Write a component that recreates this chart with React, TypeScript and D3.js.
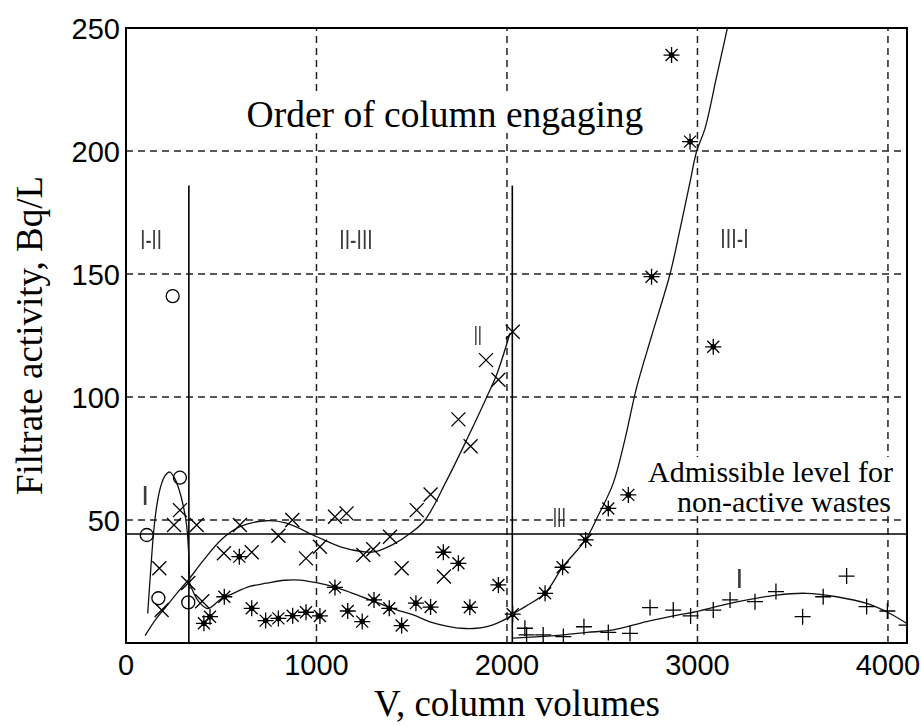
import React, { useRef, useEffect } from "react";
import * as d3 from "d3";

// measured points, V in column volumes, activity in Bq/L
export const circleV = [109, 170, 245, 283, 327];
export const circleA = [43.9, 18.2, 141, 67.2, 16.5];

export const crossV = [175, 187, 252, 283, 327, 371, 400, 514, 598, 660, 800, 873, 945, 1018, 1097, 1158, 1246, 1298, 1386, 1447, 1526, 1599, 1669, 1745, 1809, 1890, 1955, 2030];
export const crossA = [30.4, 13.4, 48, 54, 24.4, 48, 17, 36.5, 48, 36.9, 43.6, 50, 34.4, 39.1, 51.3, 52.7, 35.8, 38.1, 43.2, 30.4, 54, 60.4, 27, 90.9, 80, 115, 107, 126.5];

export const starV = [409, 441, 516, 595, 660, 733, 800, 875, 945, 1018, 1097, 1164, 1240, 1302, 1382, 1447, 1522, 1599, 1666, 1745, 1805, 1955, 2030, 2200, 2292, 2413, 2532, 2637, 2759, 2864, 2961, 3083];
export const starA = [8, 10.7, 18.8, 35.1, 14.1, 9.1, 10, 11.1, 12.5, 11, 22.6, 13, 8.7, 17.5, 14.1, 7.1, 16.2, 14.6, 36.9, 32.4, 14.5, 23.6, 11.7, 20.2, 30.8, 41.9, 54.7, 60.2, 148.9, 239, 203.8, 120.4];

export const plusV = [2094, 2103, 2190, 2296, 2404, 2532, 2646, 2751, 2873, 2964, 3083, 3171, 3302, 3412, 3552, 3660, 3783, 3888, 3997, 4098];
export const plusA = [6, 3.3, 3.3, 2.6, 6.6, 4.3, 3.9, 14.4, 13.4, 11, 13.4, 17.5, 16.8, 20.9, 10.7, 18.8, 27.2, 14.8, 13, 7.3];

// fitted curves
export const fitCircleV = [114, 130, 145, 160, 180, 205, 230, 255, 280, 300, 318, 328, 333, 336];
export const fitCircleA = [12, 30, 45, 55, 63, 68, 69.5, 67, 62, 56, 48, 38, 28, 22];

export const fitCrossV = [100, 160, 213, 270, 327, 400, 500, 598, 738, 843, 1001, 1130, 1246, 1300, 1400, 1500, 1570, 1683, 1788, 1894, 1950, 2016];
export const fitCrossA = [3, 10, 15, 20.5, 25.6, 33, 42, 47.3, 49.7, 48.7, 43.2, 39, 37.1, 37, 40, 45, 50, 66, 82.5, 100, 110, 126];

export const fitStarV = [336, 380, 430, 500, 563, 650, 738, 830, 913, 1000, 1088, 1180, 1264, 1333, 1420, 1508, 1600, 1683, 1760, 1841, 1900, 1946, 2000, 2030, 2100, 2200, 2292, 2413, 2480, 2558, 2620, 2681, 2760, 2856, 2908, 2960, 2996, 3039, 3100, 3160];
export const fitStarA = [24, 17, 14, 18, 20.2, 23, 24.3, 25.5, 25.6, 24.5, 22.9, 20.5, 18, 16, 13.5, 11.4, 8.5, 6.9, 6, 6, 6.8, 8, 10, 11.7, 15, 20.2, 30.8, 42, 52, 65, 83, 104, 125, 150, 168, 187, 200, 209, 230, 251];

export const fitPlusV = [2030, 2150, 2296, 2420, 2558, 2733, 2908, 2978, 3188, 3416, 3573, 3730, 3888, 3993, 4098];
export const fitPlusA = [2, 2.5, 3.3, 4.3, 5.3, 8.7, 11.5, 12.5, 16.4, 19.5, 20.2, 18.8, 16.1, 12.7, 8];

export const xTicks = [0, 1000, 2000, 3000, 4000];
export const yTicks = [50, 100, 150, 200, 250];

// column switch points and the admissible level
export const switchV = [330, 2028];
export const switchTop = 186;
export const admissible = 44.3;

export const regionLabels = [
  { text: "I-II", v: 75, a: 160, w: 21.6 },
  { text: "II-III", v: 1120, a: 160, w: 33.3 },
  { text: "III-I", v: 3120, a: 160.5, w: 28.3 },
  { text: "II", v: 1825, a: 121, w: 8.3 },
  { text: "III", v: 2240, a: 47, w: 13.3 },
  { text: "I", v: 80, a: 56, w: 0 },
  { text: "I", v: 3200, a: 22.3, w: 0 },
];

const W = 921;
const H = 726;
const serif = "'Liberation Serif', 'Times New Roman', serif";
const sans = "'Liberation Sans', Arial, sans-serif";

const App = () => {
  const ref = useRef<SVGSVGElement>(null);

  useEffect(() => {
    const svg = d3.select(ref.current);
    svg.selectAll("*").remove();

    const x = d3.scaleLinear().domain([0, 4100]).range([126, 907]);
    const y = d3.scaleLinear().domain([0, 250]).range([643, 28]);

    svg.append("rect").attr("width", W).attr("height", H).attr("fill", "#fff");

    const defs = svg.append("defs");
    defs
      .append("clipPath")
      .attr("id", "plot-clip")
      .append("rect")
      .attr("x", x(0))
      .attr("y", y(250))
      .attr("width", x(4100) - x(0))
      .attr("height", y(0) - y(250));
    defs
      .append("filter")
      .attr("id", "grey")
      .append("feColorMatrix")
      .attr("type", "saturate")
      .attr("values", 0);

    // dashed grid
    const grid = svg.append("g").attr("stroke", "#222").attr("stroke-width", 1.5).attr("stroke-dasharray", "7,5");
    grid
      .selectAll("line.gx")
      .data(xTicks.filter((t) => t > 0))
      .join("line")
      .attr("x1", (d) => x(d))
      .attr("x2", (d) => x(d))
      .attr("y1", y(0))
      .attr("y2", y(250));
    grid
      .selectAll("line.gy")
      .data(yTicks.filter((t) => t < 250))
      .join("line")
      .attr("class", "gy")
      .attr("x1", x(0))
      .attr("x2", x(4100))
      .attr("y1", (d) => y(d))
      .attr("y2", (d) => y(d));

    // tick labels
    svg
      .append("g")
      .selectAll("text")
      .data(xTicks)
      .join("text")
      .attr("x", (d) => x(d))
      .attr("y", 675)
      .attr("text-anchor", "middle")
      .style("font-family", sans)
      .style("font-size", "29px")
      .text((d) => d);
    svg
      .append("g")
      .selectAll("text")
      .data(yTicks)
      .join("text")
      .attr("x", 120)
      .attr("y", (d) => y(d) + 10.5)
      .attr("text-anchor", "end")
      .style("font-family", sans)
      .style("font-size", "29px")
      .text((d) => d);

    // text boxes with white background (they hide the grid)
    const boxed = (lines: { t: string; x: number; y: number }[], size: number, anchor: string) => {
      const g = svg.append("g");
      const bg = g.append("rect").attr("fill", "#fff");
      const txt = g
        .append("text")
        .attr("text-anchor", anchor)
        .style("font-family", serif)
        .style("font-size", `${size}px`);
      lines.forEach((l) => txt.append("tspan").attr("x", l.x).attr("y", l.y).text(l.t));
      const b = (txt.node() as SVGTextElement).getBBox();
      bg.attr("x", b.x - 4).attr("y", b.y + 2).attr("width", b.width + 8).attr("height", b.height - 4);
    };
    boxed([{ t: "Order of column engaging", x: 445, y: 127 }], 37.5, "middle");
    boxed(
      [
        { t: "Admissible level for", x: 893, y: 482 },
        { t: "non-active wastes", x: 891, y: 512 },
      ],
      30,
      "end"
    );

    // switch lines and admissible level
    svg
      .append("g")
      .selectAll("line")
      .data(switchV)
      .join("line")
      .attr("x1", (d) => x(d))
      .attr("x2", (d) => x(d))
      .attr("y1", y(0))
      .attr("y2", y(switchTop))
      .attr("stroke", "#000")
      .attr("stroke-width", 1.6);
    svg
      .append("line")
      .attr("x1", x(0))
      .attr("x2", x(4100))
      .attr("y1", y(admissible))
      .attr("y2", y(admissible))
      .attr("stroke", "#000")
      .attr("stroke-width", 1.6);

    // fitted curves
    const plot = svg.append("g").attr("clip-path", "url(#plot-clip)");
    const line = d3
      .line<[number, number]>()
      .x((d) => x(d[0]))
      .y((d) => y(d[1]))
      .curve(d3.curveCatmullRom.alpha(0.5));
    const fits: [number[], number[]][] = [
      [fitCircleV, fitCircleA],
      [fitCrossV, fitCrossA],
      [fitStarV, fitStarA],
      [fitPlusV, fitPlusA],
    ];
    fits.forEach(([vs, as]) => {
      plot
        .append("path")
        .datum(vs.map((v, i) => [v, as[i]] as [number, number]))
        .attr("d", line)
        .attr("fill", "none")
        .attr("stroke", "#111")
        .attr("stroke-width", 1.3);
    });

    // markers
    const mk = plot.append("g").attr("stroke", "#000").attr("stroke-width", 1.3).attr("fill", "none");
    mk.selectAll("circle.c")
      .data(circleV.map((v, i) => [v, circleA[i]]))
      .join("circle")
      .attr("class", "c")
      .attr("cx", (d) => x(d[0]))
      .attr("cy", (d) => y(d[1]))
      .attr("r", 6.5);
    mk.selectAll("path.x")
      .data(crossV.map((v, i) => [v, crossA[i]]))
      .join("path")
      .attr("class", "x")
      .attr("transform", (d) => `translate(${x(d[0])},${y(d[1])})`)
      .attr("d", "M-7,-7L7,7M-7,7L7,-7");
    const stars = mk
      .selectAll("g.s")
      .data(starV.map((v, i) => [v, starA[i]]))
      .join("g")
      .attr("class", "s")
      .attr("transform", (d) => `translate(${x(d[0])},${y(d[1])})`);
    stars.append("path").attr("d", "M-8,0H8M0,-8V8M-6,-6L6,6M-6,6L6,-6");
    stars.append("circle").attr("r", 2.8).attr("fill", "#000").attr("stroke", "none");
    mk.selectAll("path.p")
      .data(plusV.map((v, i) => [v, plusA[i]]))
      .join("path")
      .attr("class", "p")
      .attr("transform", (d) => `translate(${x(d[0])},${y(d[1])})`)
      .attr("d", "M-8,0H8M0,-8V8");

    // region labels, squeezed to the narrow width of the original, kept grey
    const labels = svg
      .append("g")
      .attr("filter", "url(#grey)")
      .selectAll("text")
      .data(regionLabels)
      .join("text")
      .attr("x", (d) => x(d.v))
      .attr("y", (d) => y(d.a))
      .attr("fill", "#3c3c3c")
      .style("font-family", sans)
      .style("font-size", "28px")
      .text((d) => d.text);
    labels
      .filter((d) => d.w > 0)
      .attr("textLength", (d) => d.w)
      .attr("lengthAdjust", "spacingAndGlyphs");

    // axis titles
    svg
      .append("text")
      .attr("x", 517)
      .attr("y", 716)
      .attr("text-anchor", "middle")
      .style("font-family", serif)
      .style("font-size", "37px")
      .text("V, column volumes");
    svg
      .append("text")
      .attr("transform", `translate(42,${(y(0) + y(250)) / 2}) rotate(-90)`)
      .attr("text-anchor", "middle")
      .style("font-family", serif)
      .style("font-size", "37px")
      .text("Filtrate activity, Bq/L");

    // axes box
    svg
      .append("rect")
      .attr("x", x(0))
      .attr("y", y(250))
      .attr("width", x(4100) - x(0))
      .attr("height", y(0) - y(250))
      .attr("fill", "none")
      .attr("stroke", "#000")
      .attr("stroke-width", 2);
  }, []);

  return (
    <svg
      ref={ref}
      width={W}
      height={H}
      style={{ position: "absolute", left: 0, top: 0, display: "block" }}
    ></svg>
  );
};

export default App;
